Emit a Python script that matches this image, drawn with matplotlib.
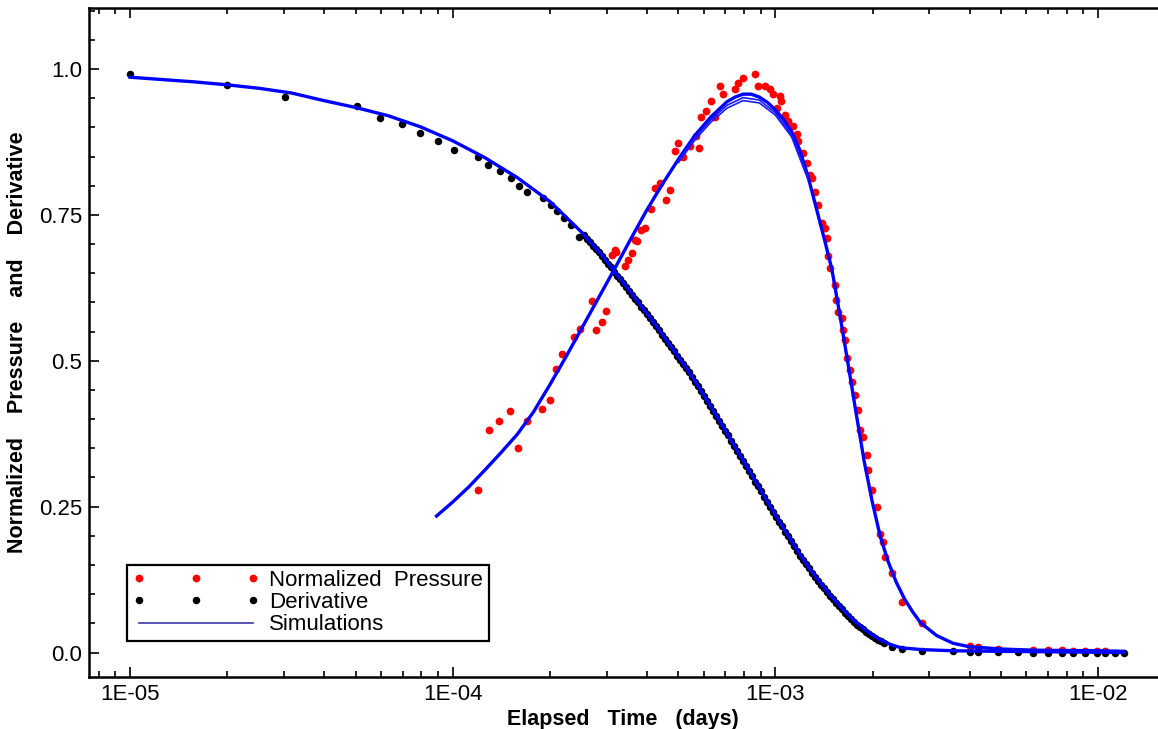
import matplotlib
matplotlib.use('Agg')
import matplotlib.pyplot as plt
from matplotlib.lines import Line2D
from matplotlib.ticker import FixedLocator, MultipleLocator, LogLocator, NullFormatter

plt.rcParams['font.family'] = ['Liberation Sans', 'DejaVu Sans']

# Derivative data (black)
deriv_t = [1.0e-5, 2.0e-5, 3.01e-5, 5.04e-5, 5.95e-5, 6.95e-5, 7.93e-5, 9.03e-5, 1.006e-4,
           1.20e-4, 1.29e-4, 1.405e-4, 1.51e-4, 1.60e-4, 1.70e-4, 1.91e-4, 2.01e-4, 2.11e-4,
           2.21e-4, 2.32e-4, 2.46e-4,
           2.545e-4, 2.656e-4, 2.772e-4, 2.893e-4, 3.020e-4, 3.152e-4, 3.289e-4, 3.433e-4,
           3.584e-4, 3.741e-4, 3.905e-4, 4.076e-4, 4.255e-4, 4.441e-4, 4.636e-4, 4.840e-4,
           5.051e-4, 5.272e-4, 5.503e-4, 5.744e-4, 5.997e-4, 6.259e-4, 6.533e-4, 6.820e-4,
           7.118e-4, 7.430e-4, 7.756e-4, 8.096e-4, 8.451e-4, 8.821e-4, 9.207e-4, 9.61e-4,
           1.003e-3, 1.047e-3, 1.093e-3, 1.141e-3, 1.191e-3, 1.243e-3, 1.297e-3, 1.354e-3,
           1.413e-3, 1.475e-3, 1.540e-3, 1.607e-3, 1.677e-3, 1.751e-3, 1.828e-3, 1.908e-3,
           1.991e-3, 2.078e-3, 2.169e-3,
           2.29e-3, 2.46e-3, 2.84e-3, 3.55e-3, 4.01e-3, 4.25e-3, 4.90e-3, 5.65e-3, 6.29e-3,
           7.00e-3, 7.74e-3, 8.37e-3, 9.12e-3, 9.94e-3, 1.05e-2, 1.13e-2, 1.20e-2]
deriv_v = [0.991, 0.973, 0.952, 0.936, 0.916, 0.905, 0.890, 0.876, 0.862,
           0.850, 0.836, 0.825, 0.813, 0.799, 0.790, 0.779, 0.767, 0.756,
           0.744, 0.733, 0.713,
           0.715, 0.703, 0.692, 0.680, 0.666, 0.653, 0.640, 0.627,
           0.613, 0.600, 0.587, 0.573, 0.559, 0.545, 0.531, 0.516,
           0.502, 0.488, 0.473, 0.456, 0.440, 0.423, 0.406, 0.389,
           0.372, 0.354, 0.337, 0.320, 0.302, 0.285, 0.267, 0.250,
           0.233, 0.216, 0.199, 0.183, 0.166, 0.151, 0.137, 0.123,
           0.110, 0.097, 0.085, 0.074, 0.063, 0.053, 0.044, 0.036,
           0.029, 0.022, 0.016,
           0.009, 0.006, 0.003, 0.002, 0.001, 0.001, 0.001, 0.001, 0.0,
           0.0, 0.0, 0.0, 0.0, 0.0, 0.0, 0.0, 0.0]

# extra derivative readings in the dense part of the record
deriv2_t = [2.600e-4, 2.713e-4, 2.831e-4, 2.956e-4, 3.085e-4, 3.220e-4, 3.360e-4, 3.508e-4,
            3.661e-4, 3.822e-4, 3.990e-4, 4.164e-4, 4.347e-4, 4.537e-4, 4.737e-4, 4.944e-4,
            5.161e-4, 5.387e-4, 5.623e-4, 5.870e-4, 6.128e-4, 6.396e-4, 6.676e-4, 6.966e-4,
            7.270e-4, 7.592e-4, 7.924e-4, 8.271e-4, 8.634e-4, 9.012e-4, 9.404e-4, 9.817e-4,
            1.025e-3, 1.070e-3, 1.116e-3, 1.165e-3, 1.216e-3, 1.270e-3, 1.325e-3, 1.383e-3,
            1.444e-3, 1.507e-3, 1.573e-3, 1.642e-3, 1.714e-3, 1.789e-3, 1.867e-3, 1.949e-3,
            2.035e-3, 2.124e-3]
deriv2_v = [0.709, 0.697, 0.686, 0.673, 0.660, 0.646, 0.633, 0.620,
            0.606, 0.593, 0.580, 0.566, 0.552, 0.538, 0.523, 0.509,
            0.495, 0.480, 0.464, 0.448, 0.431, 0.414, 0.397, 0.380,
            0.363, 0.345, 0.328, 0.311, 0.293, 0.276, 0.258, 0.241,
            0.224, 0.207, 0.191, 0.174, 0.158, 0.144, 0.130, 0.116,
            0.103, 0.091, 0.079, 0.068, 0.058, 0.048, 0.040, 0.032,
            0.025, 0.019]

# Normalized pressure data (red)
press_t = [1.196e-4, 1.293e-4, 1.389e-4, 1.50e-4, 1.591e-4, 1.702e-4, 1.894e-4, 1.995e-4,
           2.083e-4, 2.185e-4, 2.37e-4, 2.473e-4, 2.694e-4, 2.786e-4, 2.893e-4, 2.99e-4,
           3.108e-4, 3.175e-4, 3.214e-4, 3.41e-4, 3.49e-4, 3.60e-4, 3.663e-4, 3.72e-4,
           3.843e-4, 3.933e-4, 4.126e-4, 4.225e-4, 4.378e-4, 4.594e-4, 4.704e-4, 4.875e-4,
           4.99e-4, 5.172e-4, 5.426e-4, 5.692e-4, 5.80e-4, 5.90e-4, 6.11e-4, 6.335e-4,
           6.486e-4, 6.72e-4, 6.88e-4, 7.48e-4, 7.66e-4, 7.94e-4, 8.63e-4, 8.84e-4,
           9.27e-4, 9.61e-4, 9.84e-4, 1.008e-3, 1.032e-3, 1.044e-3, 1.070e-3, 1.095e-3,
           1.134e-3, 1.163e-3, 1.176e-3, 1.219e-3, 1.249e-3, 1.279e-3, 1.294e-3, 1.325e-3,
           1.357e-3, 1.390e-3, 1.423e-3, 1.441e-3, 1.457e-3, 1.475e-3, 1.529e-3, 1.540e-3,
           1.565e-3, 1.604e-3, 1.615e-3, 1.642e-3, 1.669e-3, 1.702e-3, 1.722e-3, 1.764e-3,
           1.798e-3, 1.828e-3, 1.871e-3, 1.918e-3, 1.939e-3, 1.987e-3, 2.059e-3, 2.108e-3,
           2.149e-3, 2.184e-3, 2.292e-3, 2.462e-3, 2.84e-3,
           4.01e-3, 4.25e-3, 4.90e-3, 6.29e-3, 7.00e-3, 7.74e-3, 8.37e-3, 9.12e-3, 9.94e-3,
           1.05e-2]
press_v = [0.278, 0.381, 0.397, 0.414, 0.351, 0.397, 0.418, 0.433,
           0.486, 0.512, 0.540, 0.555, 0.603, 0.553, 0.566, 0.585,
           0.682, 0.690, 0.687, 0.662, 0.672, 0.685, 0.707, 0.706,
           0.724, 0.727, 0.761, 0.796, 0.805, 0.776, 0.793, 0.859,
           0.873, 0.850, 0.868, 0.885, 0.865, 0.917, 0.928, 0.945,
           0.917, 0.971, 0.957, 0.965, 0.976, 0.985, 0.991, 0.971,
           0.971, 0.965, 0.957, 0.934, 0.954, 0.945, 0.922, 0.911,
           0.902, 0.888, 0.876, 0.856, 0.839, 0.819, 0.813, 0.790,
           0.767, 0.736, 0.727, 0.710, 0.679, 0.659, 0.630, 0.604,
           0.584, 0.573, 0.553, 0.535, 0.504, 0.484, 0.464, 0.441,
           0.415, 0.381, 0.370, 0.338, 0.313, 0.278, 0.249, 0.203,
           0.189, 0.163, 0.137, 0.086, 0.050,
           0.0115, 0.010, 0.0057, 0.0046, 0.0046, 0.004, 0.0025, 0.0025, 0.0025,
           0.002]

# Simulations (blue)
sim_deriv_t = [1.0e-5, 1.259e-5, 1.585e-5, 2.0e-5, 2.512e-5, 3.162e-5, 3.981e-5, 5.012e-5,
               6.310e-5, 7.943e-5, 1.0e-4, 1.259e-4, 1.585e-4, 2.0e-4, 2.512e-4,
               2.656e-4, 2.893e-4, 3.152e-4, 3.433e-4, 3.741e-4, 4.076e-4, 4.441e-4,
               4.840e-4, 5.272e-4, 5.744e-4, 6.259e-4, 6.820e-4, 7.430e-4, 8.096e-4,
               8.821e-4, 9.61e-4, 1.047e-3, 1.141e-3, 1.243e-3, 1.354e-3, 1.475e-3,
               1.607e-3, 1.751e-3, 1.908e-3, 2.078e-3, 2.29e-3, 2.46e-3, 2.84e-3,
               3.55e-3, 5.0e-3, 1.2e-2]
sim_deriv_v = [0.986, 0.982, 0.978, 0.973, 0.967, 0.959, 0.946, 0.934,
               0.920, 0.901, 0.877, 0.848, 0.814, 0.773, 0.720,
               0.705, 0.682, 0.655, 0.629, 0.602, 0.575, 0.547,
               0.518, 0.490, 0.458, 0.425, 0.391, 0.356, 0.322,
               0.287, 0.252, 0.218, 0.185, 0.153, 0.125, 0.099,
               0.076, 0.055, 0.038, 0.024, 0.013, 0.008, 0.005,
               0.003, 0.002, 0.0]

sim_press_t = [8.91e-5, 1.0e-4, 1.122e-4, 1.259e-4, 1.413e-4, 1.585e-4, 1.778e-4, 1.995e-4,
               2.239e-4, 2.512e-4, 2.818e-4, 3.162e-4, 3.548e-4, 3.981e-4, 4.467e-4, 5.012e-4,
               5.623e-4, 6.310e-4, 7.079e-4, 7.499e-4, 7.943e-4, 8.414e-4, 8.913e-4, 9.441e-4,
               1.0e-3, 1.059e-3, 1.122e-3, 1.189e-3, 1.259e-3, 1.334e-3, 1.413e-3, 1.496e-3,
               1.585e-3, 1.679e-3, 1.778e-3, 1.884e-3, 1.995e-3, 2.113e-3, 2.239e-3, 2.371e-3,
               2.512e-3, 2.661e-3, 2.818e-3, 3.162e-3, 3.548e-3, 3.981e-3, 5.012e-3, 6.31e-3,
               1.0e-2, 1.202e-2]
sim_press_v = [0.234, 0.258, 0.284, 0.313, 0.343, 0.374, 0.412, 0.458,
               0.506, 0.556, 0.606, 0.656, 0.707, 0.757, 0.803, 0.846,
               0.886, 0.918, 0.944, 0.952, 0.957, 0.957, 0.952, 0.943,
               0.930, 0.914, 0.893, 0.862, 0.818, 0.765, 0.712, 0.657,
               0.578, 0.495, 0.411, 0.328, 0.259, 0.199, 0.155, 0.120,
               0.092, 0.070, 0.051, 0.029, 0.016, 0.010, 0.006, 0.004,
               0.003, 0.002]

sim2_t = [5.012e-4, 5.623e-4, 6.310e-4, 7.079e-4, 7.943e-4, 8.913e-4, 1.0e-3, 1.122e-3, 1.259e-3]
sim2_v = [0.840, 0.878, 0.909, 0.933, 0.946, 0.942, 0.921, 0.884, 0.812]
sim3_v = [0.843, 0.882, 0.913, 0.938, 0.951, 0.947, 0.925, 0.888, 0.815]

y_ticks = [0.0, 0.25, 0.5, 0.75, 1.0]
y_ticklabels = ['0.0', '0.25', '0.5', '0.75', '1.0']
x_ticks = [1e-5, 1e-4, 1e-3, 1e-2]
x_ticklabels = ['1E-05', '1E-04', '1E-03', '1E-02']

fig = plt.figure(figsize=(11.58, 7.29), dpi=100)
ax = fig.add_axes([0.0769, 0.0713, 0.922, 0.918])

ax.plot(press_t, press_v, 'o', color='#ff0000', ms=5.6, mec='none', zorder=2)
ax.plot(deriv_t, deriv_v, 'o', color='#000000', ms=5.4, mec='none', zorder=2)
ax.plot(deriv2_t, deriv2_v, 'o', color='#000000', ms=5.4, mec='none', zorder=2)
ax.plot(sim_deriv_t, sim_deriv_v, '-', color='#0000ff', lw=2.4, zorder=3)
ax.plot(sim_press_t, sim_press_v, '-', color='#0000ff', lw=2.4, zorder=3)
ax.plot(sim2_t, sim2_v, '-', color='#1a1aff', lw=1.2, zorder=3)
ax.plot(sim2_t, sim3_v, '-', color='#1a1aff', lw=1.2, zorder=3)

ax.set_xscale('log')
ax.set_xlim(7.46e-6, 1.52e-2)
ax.set_ylim(-0.042, 1.105)

ax.xaxis.set_major_locator(FixedLocator(x_ticks))
ax.set_xticklabels(x_ticklabels)
ax.xaxis.set_minor_locator(LogLocator(base=10, subs=range(2, 10)))
ax.xaxis.set_minor_formatter(NullFormatter())
ax.set_yticks(y_ticks)
ax.set_yticklabels(y_ticklabels)
ax.yaxis.set_minor_locator(MultipleLocator(0.05))

ax.tick_params(which='both', direction='in', top=True, right=False, width=1.2,
               labelsize=16, pad=5)
ax.tick_params(which='major', length=7)
ax.tick_params(which='minor', length=4)

for s in ['left', 'top', 'bottom']:
    ax.spines[s].set_linewidth(1.8)
ax.spines['right'].set_visible(False)

ax.set_xlabel('Elapsed   Time   (days)', fontsize=15.5, fontweight='bold', labelpad=3)
ax.set_ylabel('Normalized    Pressure    and    Derivative', fontsize=15.5,
              fontweight='bold', labelpad=8)

handles = [
    Line2D([], [], ls='none', marker='o', color='#ff0000', ms=5.6, mec='none'),
    Line2D([], [], ls='none', marker='o', color='#000000', ms=5.4, mec='none'),
    Line2D([], [], ls='-', color='#3a3aa8', lw=1.2),
]
leg = ax.legend(handles, ['Normalized  Pressure', 'Derivative', 'Simulations'],
                loc='lower left', bbox_to_anchor=(0.0356, 0.054), borderaxespad=0,
                numpoints=3, handlelength=5.7, handletextpad=0.45, labelspacing=0.05,
                borderpad=0.25, fontsize=16, fancybox=False, framealpha=1,
                edgecolor='black')
leg.get_frame().set_linewidth(1.6)

fig.savefig('out.png', dpi=100)
